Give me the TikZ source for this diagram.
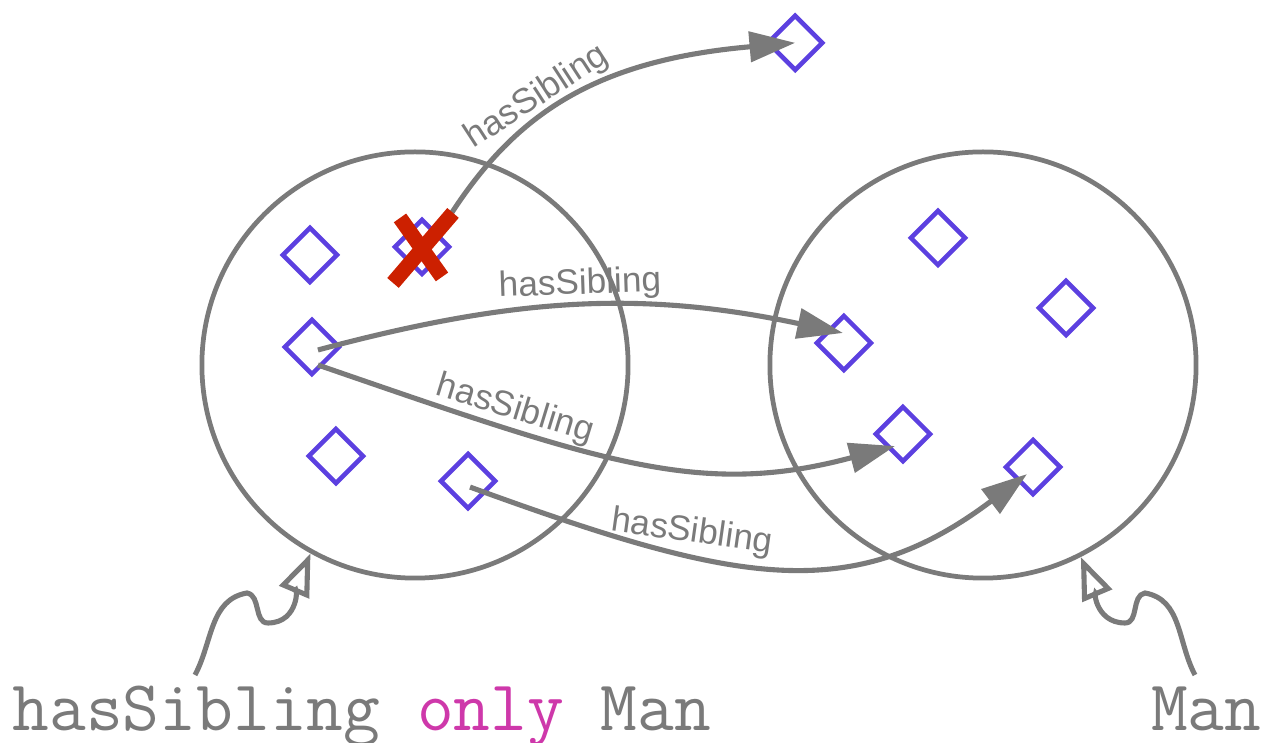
\documentclass[tikz,border=0pt]{standalone}
\usepackage{fontspec}
\setmainfont{Liberation Sans}
\usepackage{tikz}
\usetikzlibrary{positioning}
\usetikzlibrary{shapes.geometric, arrows.meta}
\definecolor{mygri1}{RGB}{122,122,122}
\definecolor{myblu1}{RGB}{92,64,224}
\definecolor{mymag1}{RGB}{206,56,170}
\definecolor{myred1}{RGB}{204,32,0}
\tikzstyle{indiv} = [diamond, draw=myblu1, line width=1.3pt, minimum width=0.56cm, minimum height=0.56cm, inner sep=0pt]
\tikzstyle{cls} = [circle, draw=mygri1, line width=1.35pt, minimum size=4.26cm, inner sep=0pt]
\tikzstyle{rel} = [line width=1.45pt, draw=mygri1, -{Triangle[length=13pt,width=8.5pt]}]
\tikzstyle{pointer} = [line width=1.45pt, draw=mygri1, -{Triangle[open,length=12pt,width=9pt]}]
\tikzstyle{rellabel} = [text=mygri1, font=\fontsize{10}{12}\selectfont, inner sep=0pt]
\tikzstyle{expr} = [text=mygri1, font=\ttfamily\fontsize{20.3}{24}\selectfont, inner sep=0pt, anchor=base west]
\tikzstyle{cross} = [line width=4.3pt, myred1]

\begin{document}
\begin{tikzpicture}[x=0.01cm, y=0.01cm, on grid]
	\useasboundingbox (0,0) rectangle (1265,-743);
	% classes
	\node (cL) [cls] at (415,-365) {};
	\node (cR) [cls] at (983,-365) {};
	% individuals, left class
	\node (l1) [indiv, above left=1.10cm and 1.05cm of cL] {};
	\node (lx) [indiv, above right=1.18cm and 0.07cm of cL] {};
	\node (l2) [indiv, above left=0.18cm and 1.03cm of cL] {};
	\node (l3) [indiv, below left=0.91cm and 0.79cm of cL] {};
	\node (l4) [indiv, below right=1.16cm and 0.53cm of cL] {};
	% individuals, right class
	\node (r1) [indiv, above left=1.27cm and 0.45cm of cR] {};
	\node (r2) [indiv, above right=0.57cm and 0.83cm of cR] {};
	\node (r3) [indiv, above left=0.22cm and 1.39cm of cR] {};
	\node (r4) [indiv, below left=0.69cm and 0.80cm of cR] {};
	\node (r5) [indiv, below right=1.02cm and 0.50cm of cR] {};
	\node (out) [indiv, above right=2.04cm and 3.73cm of lx] {};
	\coordinate (xtop) at ([shift={(29,33)}]lx.center);
	% relations
	\draw [rel] (xtop) .. controls +(57:120) and +(185:200) .. (out.center);
	\draw [rel] ([shift={(6,-3)}]l2.center) .. controls +(15:205) and +(168:205) .. ([shift={(-1,10)}]r3.center);
	\draw [rel] ([shift={(6,-18)}]l2.center) .. controls +(-19:300) and +(195:202) .. ([shift={(-8,-12)}]r4.center);
	\draw [rel] ([shift={(2,-6)}]l4.center) .. controls +(-20:280) and +(217:222) .. ([shift={(-6,-7)}]r5.center);
	\node (lab1) [rellabel, rotate=33] at (537,-97) {hasSibling};
	\node (lab2) [rellabel, rotate=2] at (580,-285) {hasSibling};
	\node (lab3) [rellabel, rotate=-17] at (515,-410) {hasSibling};
	\node (lab4) [rellabel, rotate=-8] at (692,-533) {hasSibling};
	% the cross
	\draw [cross] ([shift={(-29,-36)}]lx.center) -- ([shift={(31,34)}]lx.center);
	\draw [cross] ([shift={(-22,29)}]lx.center) -- ([shift={(20,-30)}]lx.center);
	% class expressions
	\node (qL) [expr] at (12,-731) {hasSibling \textcolor{mymag1}{only} Man};
	\node (qR) [expr, anchor=base east] at (1262,-731) {Man};
	\coordinate (pL) at (195,-675);
	\coordinate (pR) at (1195,-675);
	\draw [pointer] (pL) to[out=62,in=190] ++(52,82) to[out=-10,in=180] ++(21,-30) to[out=0,in=247] (cL.241);
	\draw [pointer] (pR) to[out=118,in=-10] ++(-50,82) to[out=190,in=0] ++(-20,-30) to[out=180,in=293] (cR.297);
\end{tikzpicture}
\end{document}
